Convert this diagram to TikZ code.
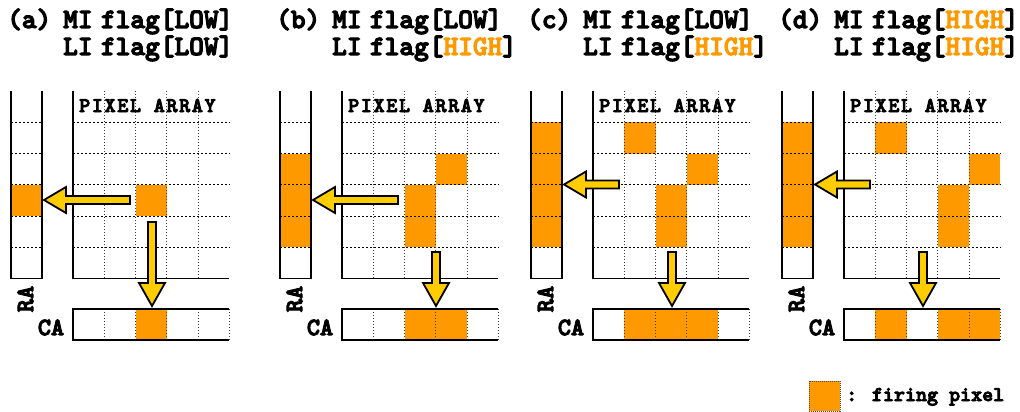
\documentclass[tikz,border=0pt]{standalone}
\usepackage{fontspec}
\newfontfamily\cour{lmmonolt10-bold.otf}[FakeBold=4]
\newfontfamily\courls{lmmonolt10-bold.otf}[FakeBold=4,LetterSpace=8]
\definecolor{firing}{RGB}{255,153,0}
\definecolor{arrowy}{RGB}{255,204,0}
\tikzset{
  ttl/.style={font=\cour\fontsize{28}{28}\selectfont, anchor=base west, inner sep=0pt},
  lbl/.style={font=\cour\fontsize{25}{25}\selectfont, inner sep=0pt},
  patext/.style={font=\courls\fontsize{21}{21}\selectfont, anchor=base west, inner sep=0pt},
  legtext/.style={font=\cour\fontsize{21}{21}\selectfont, anchor=base west, inner sep=0pt},
  hdash/.style={line width=1pt, dash pattern=on 2pt off 2pt},
  vdot/.style={line width=1pt, dash pattern=on 1pt off 2pt, black!75},
  frameline/.style={line width=1.8pt, line join=miter},
  bigarrow/.style={fill=arrowy, draw=black, line width=1.8pt, line join=miter},
}
\newcommand\hi[1]{\textcolor{firing}{#1}}
\newcommand\gap{\kern0.3em}
% common frame of one panel (drawn after the orange cells)
\newcommand\PanelFrame[1]{%
  \foreach \rr in {1,...,5} {
    \draw[hdash] (73,91+\rr*31.25) -- (229.25,91+\rr*31.25);
    \draw[hdash] (11,91+\rr*31.25) -- (42,91+\rr*31.25);
  }
  \foreach \cc in {1,...,4} {
    \draw[vdot] (73+\cc*31.25,91) -- (73+\cc*31.25,278.5);
    \draw[vdot] (73+\cc*31.25,309) -- (73+\cc*31.25,340);
  }
  \draw[vdot] (229.25,309) -- (229.25,340);
  \draw[frameline] (73,91) -- (73,278.5) -- (229.25,278.5);
  \draw[frameline] (11,91) -- (11,278.5) -- (42,278.5) -- (42,91);
  \draw[frameline] (229.25,309) -- (73,309) -- (73,340) -- (229.25,340);
  \node[patext] (pa#1) at (79,112) {PIXEL ARRAY};
  \node[lbl, rotate=90] (ra#1) at (25.5,299) {RA};
  \node[lbl] (ca#1) at (51,327.5) {CA};
}
\newcommand\LeftArrow[2]{% #1 y, #2 shaft end x
  \draw[bigarrow] (44,#1) -- (66,#1-13) -- (66,#1-4) -- (#2,#1-4) -- (#2,#1+4)
     -- (66,#1+4) -- (66,#1+13) -- cycle;
}
\newcommand\DownArrow[2]{% #1 x, #2 top y
  \draw[bigarrow] (#1-4,#2) -- (#1+4,#2) -- (#1+4,283) -- (#1+13,283) -- (#1,306)
     -- (#1-13,283) -- (#1-4,283) -- cycle;
}
\begin{document}
\begin{tikzpicture}[x=1pt,y=-1pt]
\useasboundingbox (0,0) rectangle (1020,412);
% ---------- (a)
\begin{scope}
  \node[ttl] (ta) at (7,28) {(a)};
  \node[ttl] (mia) at (63,28) {MI\gap flag[LOW]};
  \node[ttl] (lia) at (63,55) {LI\gap flag[LOW]};
  \foreach \cc/\rr in {2/3} \fill[firing] (73+\cc*31.25,91+\rr*31.25) rectangle ++(31.25,31.25);
  \foreach \rr in {3} \fill[firing] (11,91+\rr*31.25) rectangle ++(31,31.25);
  \foreach \cc in {2} \fill[firing] (73+\cc*31.25,309) rectangle ++(31.25,31);
  \PanelFrame{a}
  \LeftArrow{200}{130}
  \DownArrow{152}{222}
\end{scope}
% ---------- (b)
\begin{scope}[xshift=269pt]
  \node[ttl] (tb) at (7,28) {(b)};
  \node[ttl] (mib) at (63,28) {MI\gap flag[LOW]};
  \node[ttl] (lib) at (63,55) {LI\gap flag[\hi{HIGH}]};
  \foreach \cc/\rr in {2/3,2/4,3/2} \fill[firing] (73+\cc*31.25,91+\rr*31.25) rectangle ++(31.25,31.25);
  \foreach \rr in {2,3,4} \fill[firing] (11,91+\rr*31.25) rectangle ++(31,31.25);
  \foreach \cc in {2,3} \fill[firing] (73+\cc*31.25,309) rectangle ++(31.25,31);
  \PanelFrame{b}
  \LeftArrow{200}{129}
  \DownArrow{167}{252}
\end{scope}
% ---------- (c)
\begin{scope}[xshift=520pt]
  \node[ttl] (tc) at (7,28) {(c)};
  \node[ttl] (mic) at (63,28) {MI\gap flag[LOW]};
  \node[ttl] (lic) at (63,55) {LI\gap flag[\hi{HIGH}]};
  \foreach \cc/\rr in {1/1,3/2,2/3,2/4} \fill[firing] (73+\cc*31.25,91+\rr*31.25) rectangle ++(31.25,31.25);
  \foreach \rr in {1,2,3,4} \fill[firing] (11,91+\rr*31.25) rectangle ++(31,31.25);
  \foreach \cc in {1,2,3} \fill[firing] (73+\cc*31.25,309) rectangle ++(31.25,31);
  \PanelFrame{c}
  \LeftArrow{184.5}{99}
  \DownArrow{152}{252}
\end{scope}
% ---------- (d)
\begin{scope}[xshift=771pt]
  \node[ttl] (td) at (7,28) {(d)};
  \node[ttl] (mid) at (63,28) {MI\gap flag[\hi{HIGH}]};
  \node[ttl] (lid) at (63,55) {LI\gap flag[\hi{HIGH}]};
  \foreach \cc/\rr in {1/1,4/2,3/3,3/4} \fill[firing] (73+\cc*31.25,91+\rr*31.25) rectangle ++(31.25,31.25);
  \foreach \rr in {1,2,3,4} \fill[firing] (11,91+\rr*31.25) rectangle ++(31,31.25);
  \foreach \cc in {1,3,4} \fill[firing] (73+\cc*31.25,309) rectangle ++(31.25,31);
  \PanelFrame{d}
  \LeftArrow{184.5}{99}
  \DownArrow{152}{252}
\end{scope}
% ---------- legend
\node[fill=firing, draw=black!70, line width=0.8pt, dash pattern=on 1pt off 1pt,
      minimum width=31pt, minimum height=30pt, inner sep=0pt] (legbox) at (824.5,396) {};
\node[legtext] (legtxt) at (846,401) {: firing pixel};
\end{tikzpicture}
\end{document}
